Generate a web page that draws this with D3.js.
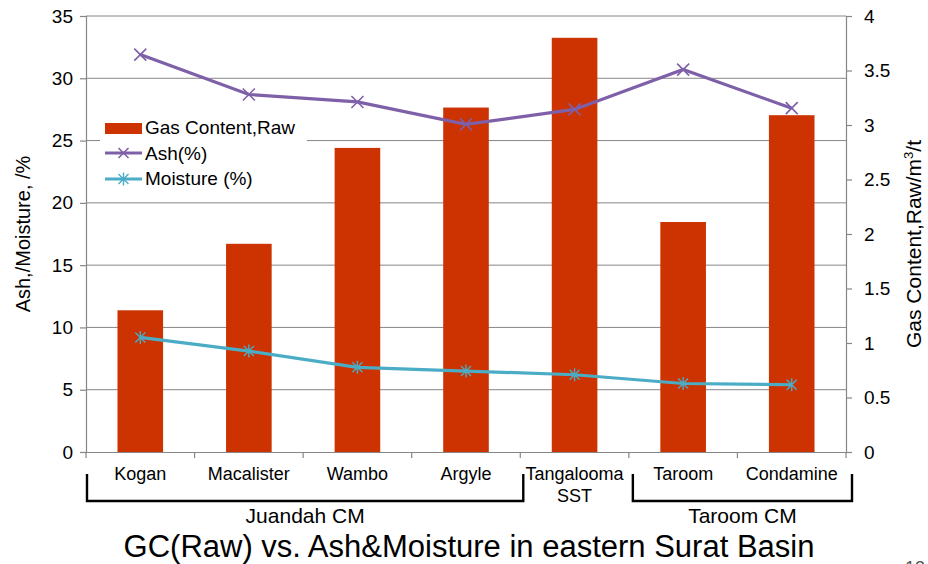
<!DOCTYPE html>
<html>
<head>
<meta charset="utf-8">
<script src="https://cdn.jsdelivr.net/npm/d3@7"></script>
<style>
  body { margin: 0; background: #fff; }
  svg { font-family: "Liberation Sans", Arial, sans-serif; }
</style>
</head>
<body>
<svg id="chart" width="928" height="564"></svg>
<script>
const categories = ["Kogan", "Macalister", "Wambo", "Argyle", "Tangalooma\nSST", "Taroom", "Condamine"];
const gasContent = [1.30, 1.91, 2.79, 3.16, 3.80, 2.11, 3.09];
const ash = [31.9, 28.7, 28.1, 26.3, 27.5, 30.7, 27.6];
const moisture = [9.2, 8.1, 6.8, 6.5, 6.2, 5.5, 5.4];
const leftTicks = [0, 5, 10, 15, 20, 25, 30, 35];
const rightTicks = [0, 0.5, 1, 1.5, 2, 2.5, 3, 3.5, 4];
const groups = [
  { name: "Juandah CM", from: 0, to: 3 },
  { name: "Taroom CM", from: 5, to: 6 }
];

const svg = d3.select("#chart");
const margin = { left: 86, right: 82, top: 16, bottom: 112 };
const width = 928, height = 564;
const plotW = width - margin.left - margin.right,
  plotH = height - margin.top - margin.bottom;

const x = d3.scaleBand().domain(categories).range([margin.left, margin.left + plotW]);
const yL = d3.scaleLinear().domain([0, 35]).range([margin.top + plotH, margin.top]);
const yR = d3.scaleLinear().domain([0, 4]).range([margin.top + plotH, margin.top]);

const axisColor = "#868686";

// gridlines
svg.append("g")
  .selectAll("line")
  .data(leftTicks.filter(d => d > 0))
  .join("line")
  .attr("x1", margin.left)
  .attr("x2", margin.left + plotW)
  .attr("y1", d => yL(d))
  .attr("y2", d => yL(d))
  .attr("stroke", axisColor)
  .attr("stroke-width", 1);

// bars
const barW = x.bandwidth() * 0.42;
svg.append("g")
  .selectAll("rect")
  .data(categories)
  .join("rect")
  .attr("x", d => x(d) + (x.bandwidth() - barW) / 2)
  .attr("y", (d, i) => yR(gasContent[i]))
  .attr("width", barW)
  .attr("height", (d, i) => yR(0) - yR(gasContent[i]))
  .attr("fill", "#CC3300");

// axes
const leftAxis = svg.append("g")
  .attr("transform", `translate(${margin.left},0)`)
  .call(d3.axisLeft(yL).tickValues(leftTicks).tickSize(6).tickPadding(7));
const rightAxis = svg.append("g")
  .attr("transform", `translate(${margin.left + plotW},0)`)
  .call(d3.axisRight(yR).tickValues(rightTicks).tickSize(6).tickPadding(12).tickFormat(d3.format("")));
const bottomAxis = svg.append("g")
  .attr("transform", `translate(0,${yL(0)})`)
  .call(d3.axisBottom(x).tickSize(0).tickFormat(""));

[leftAxis, rightAxis, bottomAxis].forEach(g => {
  g.select(".domain").attr("stroke", axisColor).attr("stroke-width", 1.2);
  g.selectAll(".tick line").attr("stroke", axisColor).attr("stroke-width", 1.2);
  g.selectAll(".tick text").attr("fill", "#000").style("font-size", "19px");
});

// category separators on x axis
const seps = categories.map(c => x(c)).concat([margin.left + plotW]);
svg.append("g")
  .selectAll("line")
  .data(seps)
  .join("line")
  .attr("x1", d => d).attr("x2", d => d)
  .attr("y1", yL(0)).attr("y2", yL(0) + 6)
  .attr("stroke", axisColor).attr("stroke-width", 1.2);

// category labels
svg.append("g")
  .selectAll("text")
  .data(categories)
  .join("text")
  .attr("x", d => x(d) + x.bandwidth() / 2)
  .attr("y", yL(0) + 28)
  .attr("text-anchor", "middle")
  .style("font-size", "18px")
  .each(function (d) {
    const lines = d.split("\n");
    d3.select(this).selectAll("tspan")
      .data(lines)
      .join("tspan")
      .attr("x", x(d) + x.bandwidth() / 2)
      .attr("dy", (l, i) => (i === 0 ? 0 : 22))
      .text(l => l);
  });

// ash and moisture lines
const ashColor = "#7E60A8", moistColor = "#4BACC6";
const cx = d => x(d) + x.bandwidth() / 2;
const line = d3.line();
svg.append("path")
  .attr("d", line(categories.map((c, i) => [cx(c), yL(ash[i])])))
  .attr("fill", "none").attr("stroke", ashColor).attr("stroke-width", 3.2);
svg.append("path")
  .attr("d", line(categories.map((c, i) => [cx(c), yL(moisture[i])])))
  .attr("fill", "none").attr("stroke", moistColor).attr("stroke-width", 3.2);

function xMarker(g, px, py, color, s) {
  g.append("path")
    .attr("d", `M${px - s},${py - s}L${px + s},${py + s}M${px - s},${py + s}L${px + s},${py - s}`)
    .attr("stroke", color).attr("stroke-width", 1.6).attr("fill", "none");
}
function starMarker(g, px, py, color, s) {
  g.append("path")
    .attr("d", `M${px - s},${py - s}L${px + s},${py + s}M${px - s},${py + s}L${px + s},${py - s}M${px},${py - s * 1.3}L${px},${py + s * 1.3}`)
    .attr("stroke", color).attr("stroke-width", 1.4).attr("fill", "none");
}
const markers = svg.append("g");
categories.forEach((c, i) => {
  xMarker(markers, cx(c), yL(ash[i]), ashColor, 6);
  starMarker(markers, cx(c), yL(moisture[i]), moistColor, 5);
});

// legend
const legend = svg.append("g").attr("transform", "translate(100,113)");
legend.append("rect").attr("width", 207).attr("height", 80).attr("fill", "#fff");
legend.append("rect").attr("x", 5).attr("y", 10).attr("width", 37).attr("height", 11).attr("fill", "#CC3300");
legend.append("line").attr("x1", 5).attr("x2", 42).attr("y1", 40).attr("y2", 40).attr("stroke", ashColor).attr("stroke-width", 3);
xMarker(legend, 23.5, 40, ashColor, 5);
legend.append("line").attr("x1", 5).attr("x2", 42).attr("y1", 66).attr("y2", 66).attr("stroke", moistColor).attr("stroke-width", 3);
starMarker(legend, 23.5, 66, moistColor, 5);
const legendLabels = ["Gas Content,Raw", "Ash(%)", "Moisture (%)"];
legend.selectAll("text.lab")
  .data(legendLabels)
  .join("text")
  .attr("class", "lab")
  .attr("x", 45)
  .attr("y", (d, i) => 21 + i * 25.5)
  .style("font-size", "19px")
  .text(d => d);

// axis titles
svg.append("text")
  .attr("transform", `translate(30,${margin.top + plotH / 2}) rotate(-90)`)
  .attr("text-anchor", "middle")
  .style("font-size", "20px")
  .text("Ash,/Moisture, /%");
const rt = svg.append("text")
  .attr("transform", `translate(921,${margin.top + plotH / 2 + 10}) rotate(-90)`)
  .attr("text-anchor", "middle")
  .style("font-size", "21px");
rt.append("tspan").text("Gas Content,Raw/m");
rt.append("tspan").attr("dy", -8).style("font-size", "13px").text("3");
rt.append("tspan").attr("dy", 8).text("/t");

// group brackets
const bracketTop = yL(0) + 22, bracketBottom = yL(0) + 49;
groups.forEach(gp => {
  const x0 = x(categories[gp.from]) + 1 + (gp.from > 0 ? 3 : 0);
  const x1 = x(categories[gp.to]) + x.bandwidth() + 3 + (gp.from > 0 ? 3 : 0);
  svg.append("path")
    .attr("d", `M${x0},${bracketTop}V${bracketBottom}H${x1}V${bracketTop}`)
    .attr("fill", "none").attr("stroke", "#000").attr("stroke-width", 2.4);
  svg.append("text")
    .attr("x", (x0 + x1) / 2)
    .attr("y", bracketBottom + 22)
    .attr("text-anchor", "middle")
    .style("font-size", "21px")
    .text(gp.name);
});

// title
svg.append("text")
  .attr("x", 469)
  .attr("y", 557)
  .attr("text-anchor", "middle")
  .style("font-size", "31px")
  .text("GC(Raw) vs. Ash&Moisture in eastern Surat Basin");

// page number, cut off at the edge
svg.append("text")
  .attr("x", 905)
  .attr("y", 574)
  .style("font-size", "18px")
  .attr("fill", "#555")
  .text("13");
</script>
</body>
</html>
